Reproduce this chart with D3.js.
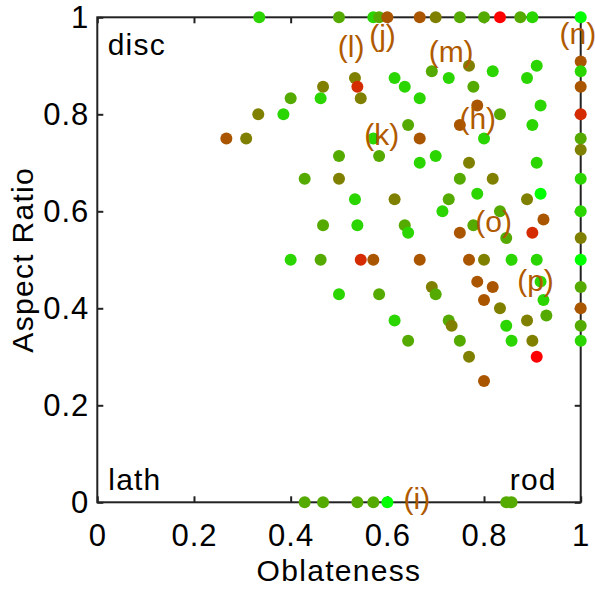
<!DOCTYPE html>
<html>
<head>
<meta charset="utf-8">
<script src="https://cdn.jsdelivr.net/npm/d3@7"></script>
<style>
  body { margin: 0; background: #fff; }
  text { font-family: "Liberation Sans", Arial, Helvetica, sans-serif; }
</style>
</head>
<body>
<div id="chart"></div>
<script>
// x = oblateness, y = aspect ratio, level = colour step (0 green .. 6 red)
const oblateness = [
  0.335, 0.50, 0.571, 0.583, 0.60, 0.667, 0.70, 0.75, 0.80, 0.833, 0.875, 0.90, 1.0,
  1, 1, 1, 1, 1, 1, 1, 1, 1, 1, 1, 1, 1, 1,
  0.429, 0.467, 0.538, 0.571, 0.60, 0.846, 0.857,
  0.467, 0.40, 0.462, 0.333, 0.385, 0.267, 0.308, 0.50, 0.429, 0.50, 0.467, 0.40, 0.462, 0.50,
  0.533, 0.538, 0.545, 0.615, 0.636, 0.667, 0.692, 0.727, 0.769, 0.778, 0.818, 0.889, 0.909,
  0.786, 0.833, 0.917, 0.643, 0.75, 0.90, 0.571, 0.667, 0.80, 0.583, 0.70, 0.667, 0.769, 0.909,
  0.75, 0.818, 0.533, 0.615, 0.727, 0.786, 0.889, 0.917, 0.714, 0.833, 0.538, 0.636, 0.643,
  0.778, 0.75, 0.846, 0.90, 0.923, 0.545, 0.571, 0.667, 0.769, 0.80, 0.857, 0.909,
  0.786, 0.818, 0.917, 0.692, 0.70, 0.583, 0.80, 0.923, 0.833, 0.615, 0.727, 0.733, 0.889,
  0.929, 0.846, 0.643, 0.75, 0.857, 0.90, 0.769, 0.909, 0.80
];
const aspectRatio = [
  1, 1, 1, 1, 1, 1, 1, 1, 1, 1, 1, 1, 1,
  0.909, 0.889, 0.857, 0.80, 0.75, 0.727, 0.667, 0.60, 0.545, 0.50, 0.444, 0.40, 0.364, 0.333,
  0, 0, 0, 0, 0, 0, 0,
  0.857, 0.833, 0.833, 0.80, 0.80, 0.75, 0.75, 0.714, 0.667, 0.667, 0.571, 0.50, 0.50, 0.429,
  0.875, 0.857, 0.833, 0.875, 0.857, 0.833, 0.889, 0.875, 0.90, 0.857, 0.889, 0.875, 0.90,
  0.818, 0.80, 0.818, 0.778, 0.778, 0.778, 0.75, 0.75, 0.75, 0.714, 0.714, 0.70, 0.70, 0.70,
  0.667, 0.667, 0.625, 0.625, 0.625, 0.636, 0.625, 0.636, 0.60, 0.60, 0.571, 0.571, 0.556,
  0.571, 0.556, 0.545, 0.556, 0.583, 0.50, 0.50, 0.50, 0.50, 0.50, 0.50, 0.50,
  0.455, 0.444, 0.455, 0.444, 0.429, 0.429, 0.417, 0.417, 0.40, 0.375, 0.375, 0.364, 0.375,
  0.385, 0.364, 0.333, 0.333, 0.333, 0.333, 0.30, 0.30, 0.25
];
const level = [
  1, 2, 1, 2, 4, 4, 3, 2, 2, 6, 2, 1, 0,
  4, 1, 4, 5, 2, 3, 1, 1, 3, 0, 2, 4, 2, 1,
  2, 2, 2, 2, 0, 2, 2,
  3, 2, 1, 3, 1, 4, 3, 2, 2, 3, 2, 1, 2, 1,
  3, 5, 3, 1, 1, 1, 2, 1, 3, 2, 1, 1, 1,
  4, 2, 1, 2, 4, 1, 1, 4, 1, 2, 1, 1, 3, 1,
  2, 3, 1, 3, 2, 1, 3, 0, 1, 2, 1, 2, 1,
  2, 4, 2, 5, 4, 5, 4, 4, 4, 3, 1, 1,
  4, 4, 1, 3, 2, 2, 4, 1, 3, 1, 2, 3, 3,
  2, 1, 2, 2, 1, 3, 3, 6, 4
];

const xTicks = [0, 0.2, 0.4, 0.6, 0.8, 1];
const yTicks = [0, 0.2, 0.4, 0.6, 0.8, 1];

// panel annotations (data coords of text baseline centre)
const noteText = ['(l)', '(j)', '(m)', '(n)', '(h)', '(k)', '(o)', '(p)', '(i)'];
const noteX = [0.525, 0.590, 0.732, 0.994, 0.787, 0.5885, 0.820, 0.9065, 0.661];
const noteY = [0.918, 0.940, 0.908, 0.945, 0.770, 0.737, 0.557, 0.436, -0.014];

const width = 595;
const height = 590;
const margin = {top: 17.3, left: 97.3, right: 14.3, bottom: 87.7};
const w = width - margin.left - margin.right;
const h = height - margin.top - margin.bottom;

const x = d3.scaleLinear().domain([0, 1]).range([0, w]);
const y = d3.scaleLinear().domain([0, 1]).range([h, 0]);
const color = d3.scaleLinear().domain([0, 6])
  .range(['#00ff00', '#ff0000']).interpolate(d3.interpolateRgb);

const svg = d3.select('#chart').append('svg')
  .attr('width', width)
  .attr('height', height);

const g = svg.append('g')
  .attr('transform', `translate(${margin.left},${margin.top})`);

const fontSize = 31;

// axes with inward ticks on all four sides
const bottom = g.append('g').attr('transform', `translate(0,${h})`)
  .call(d3.axisBottom(x).tickValues(xTicks).tickSize(-6).tickPadding(22)
    .tickFormat(d3.format('')));
const left = g.append('g')
  .call(d3.axisLeft(y).tickValues(yTicks).tickSize(-6).tickPadding(8)
    .tickFormat(d3.format('')));
g.append('g')
  .call(d3.axisTop(x).tickValues(xTicks).tickSize(-6).tickFormat(''));
g.append('g').attr('transform', `translate(${w},0)`)
  .call(d3.axisRight(y).tickValues(yTicks).tickSize(-6).tickFormat(''));

g.selectAll('.domain').remove();
g.selectAll('.tick line').attr('stroke', '#222').attr('stroke-width', 2);
[bottom, left].forEach(a => a.selectAll('text')
  .style('font-size', `${fontSize}px`)
  .style('letter-spacing', '1px')
  .attr('fill', '#000'));

// frame
g.append('rect')
  .attr('width', w)
  .attr('height', h)
  .attr('fill', 'none')
  .attr('stroke', '#222')
  .attr('stroke-width', 2);

// points
g.append('g').selectAll('circle')
  .data(oblateness.map((d, i) => ({x: d, y: aspectRatio[i], c: level[i]})))
  .join('circle')
  .attr('cx', d => x(d.x))
  .attr('cy', d => y(d.y))
  .attr('r', 6)
  .attr('fill', d => color(d.c));

// annotations
g.append('g').selectAll('text')
  .data(noteText)
  .join('text')
  .attr('x', (d, i) => x(noteX[i]))
  .attr('y', (d, i) => y(noteY[i]))
  .attr('text-anchor', 'middle')
  .style('font-size', '30px')
  .attr('fill', '#b05a00')
  .text(d => d);

// corner labels
const corner = g.append('g').style('font-size', '30px').style('letter-spacing', '1.2px');
corner.append('text').attr('x', 10.4).attr('y', 37.7).text('disc');
corner.append('text').attr('x', 11).attr('y', h - 12.3).text('lath');
corner.append('text').attr('x', w - 24).attr('y', h - 12.3)
  .attr('text-anchor', 'end').text('rod');

// axis titles
svg.append('text')
  .attr('x', margin.left + w / 2)
  .attr('y', 580.5)
  .attr('text-anchor', 'middle')
  .style('font-size', '30px')
  .style('letter-spacing', '1.3px')
  .text('Oblateness');

svg.append('text')
  .attr('transform', `translate(33,${margin.top + h / 2}) rotate(-90)`)
  .attr('text-anchor', 'middle')
  .style('font-size', '30px')
  .style('letter-spacing', '1.3px')
  .text('Aspect Ratio');
</script>
</body>
</html>
